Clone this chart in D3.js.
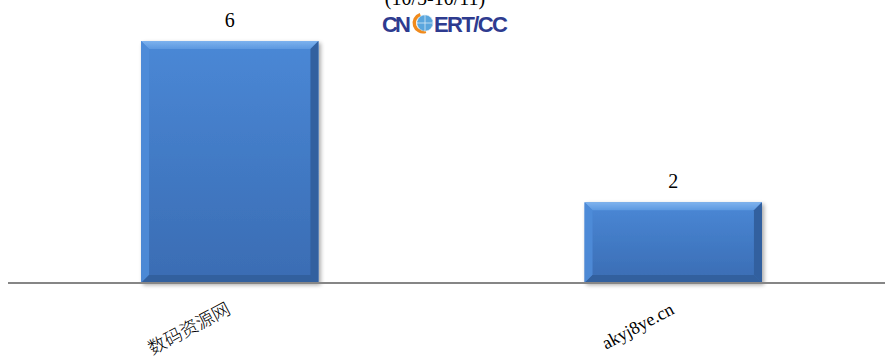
<!DOCTYPE html>
<html>
<head>
<meta charset="utf-8">
<script src="https://cdn.jsdelivr.net/npm/d3@7"></script>
<style>
  body { margin: 0; background: #fff; }
  svg { display: block; }
</style>
</head>
<body>
<div id="chart-area"></div>
<script>
// data
const sites = ["数码资源网", "akyj8ye.cn"];
const counts = [6, 2];
const titleText = "(10/5-10/11)";

const W = 885, H = 358;
const axisY = 283;
const bevel = 8;

const svg = d3.select("#chart-area")
  .append("svg")
  .attr("width", W)
  .attr("height", H);

const defs = svg.append("defs");

const face = defs.append("linearGradient")
  .attr("id", "face").attr("x1", 0).attr("y1", 0).attr("x2", 0).attr("y2", 1);
face.append("stop").attr("offset", "0%").attr("stop-color", "#4a88d6");
face.append("stop").attr("offset", "100%").attr("stop-color", "#3a6cb3");

const topG = defs.append("linearGradient")
  .attr("id", "topBevel").attr("x1", 0).attr("y1", 0).attr("x2", 0).attr("y2", 1);
topG.append("stop").attr("offset", "0%").attr("stop-color", "#7db2ee");
topG.append("stop").attr("offset", "100%").attr("stop-color", "#5c98e0");

const shadow = defs.append("filter").attr("id", "shadow")
  .attr("x", "-10%").attr("y", "-10%").attr("width", "125%").attr("height", "125%");
shadow.append("feGaussianBlur").attr("in", "SourceAlpha").attr("stdDeviation", 2);
shadow.append("feOffset").attr("dx", 2).attr("dy", 2).attr("result", "b");
shadow.append("feComponentTransfer").append("feFuncA").attr("type", "linear").attr("slope", 0.35);
const merge = shadow.append("feMerge");
merge.append("feMergeNode");
merge.append("feMergeNode").attr("in", "SourceGraphic");

// scales
const x = d3.scaleBand()
  .domain(sites)
  .range([8, 895])
  .paddingInner(0.6)
  .paddingOuter(0.3);

const y = d3.scaleLinear()
  .domain([0, 6])
  .range([axisY, 41]);

const data = sites.map((s, i) => ({site: s, count: counts[i]}));

// bars
const bars = svg.selectAll("g.bar").data(data).enter().append("g")
  .attr("class", "bar")
  .attr("filter", "url(#shadow)");

bars.append("rect")
  .attr("x", d => x(d.site))
  .attr("y", d => y(d.count))
  .attr("width", x.bandwidth())
  .attr("height", d => axisY - y(d.count))
  .attr("fill", "url(#face)");

// bevel edges
bars.each(function(d) {
  const g = d3.select(this);
  const x0 = x(d.site), x1 = x0 + x.bandwidth();
  const y0 = y(d.count), y1 = axisY;
  const b = bevel;
  g.append("polygon")
    .attr("points", [[x0, y0], [x1, y0], [x1 - b, y0 + b], [x0 + b, y0 + b]].join(" "))
    .attr("fill", "url(#topBevel)");
  g.append("polygon")
    .attr("points", [[x0, y0], [x0 + b, y0 + b], [x0 + b, y1 - b], [x0, y1]].join(" "))
    .attr("fill", "#4f8cd8").attr("opacity", 0.9);
  g.append("polygon")
    .attr("points", [[x1, y0], [x1, y1], [x1 - b, y1 - b], [x1 - b, y0 + b]].join(" "))
    .attr("fill", "#31609f");
  g.append("polygon")
    .attr("points", [[x0, y1], [x0 + b, y1 - b], [x1 - b, y1 - b], [x1, y1]].join(" "))
    .attr("fill", "#30609e");
});

// axis line
svg.append("line")
  .attr("x1", 8).attr("x2", W)
  .attr("y1", axisY).attr("y2", axisY)
  .attr("stroke", "#868686")
  .attr("stroke-width", 2);

// value labels
svg.selectAll("text.value").data(data).enter().append("text")
  .attr("class", "value")
  .attr("x", d => x(d.site) + x.bandwidth() / 2)
  .attr("y", d => y(d.count) - 14)
  .attr("text-anchor", "middle")
  .attr("font-family", "'Liberation Serif', 'Times New Roman', serif")
  .attr("font-size", "20px")
  .attr("fill", "#000")
  .text(d => d.count);

// category labels
svg.selectAll("text.cat").data(data).enter().append("text")
  .attr("class", "cat")
  .attr("transform", d => `translate(${x(d.site) + x.bandwidth() / 2 + 2}, ${axisY + 30}) rotate(-28)`)
  .attr("text-anchor", "end")
  .attr("font-family", "'Liberation Serif', 'Noto Sans CJK SC', serif")
  .attr("font-weight", 300)
  .attr("font-size", "18px")
  .attr("fill", "#000")
  .text(d => d.site);

// title (cut off by the top edge, as in the source)
svg.append("text")
  .attr("x", 435)
  .attr("y", 5)
  .attr("text-anchor", "middle")
  .attr("font-family", "'Liberation Serif', serif")
  .attr("font-size", "20px")
  .text(titleText);

// CNCERT/CC logo
const logo = svg.append("g").attr("transform", "translate(382, 32)");
logo.append("text")
  .attr("x", 0).attr("y", 0)
  .attr("font-family", "'Liberation Sans', Arial, sans-serif")
  .attr("font-weight", "bold")
  .attr("font-size", "22px")
  .attr("fill", "#2e3b8f")
  .attr("textLength", 29)
  .text("CN");
logo.append("path")
  .attr("d", d3.arc()({innerRadius: 7, outerRadius: 10.5, startAngle: Math.PI * 0.9, endAngle: Math.PI * 1.9}))
  .attr("transform", "translate(41,-9)")
  .attr("fill", "#f08a1c");
logo.append("circle")
  .attr("cx", 43).attr("cy", -9).attr("r", 8)
  .attr("fill", "#5aa6dd");
logo.append("circle")
  .attr("cx", 43).attr("cy", -9).attr("r", 8)
  .attr("fill", "none").attr("stroke", "#d4eaf8").attr("stroke-width", 0.8)
  .attr("stroke-dasharray", "2,1");
logo.append("line")
  .attr("x1", 35).attr("x2", 51).attr("y1", -9).attr("y2", -9)
  .attr("stroke", "#d4eaf8").attr("stroke-width", 0.8);
logo.append("line")
  .attr("x1", 43).attr("x2", 43).attr("y1", -17).attr("y2", -1)
  .attr("stroke", "#d4eaf8").attr("stroke-width", 0.8);
logo.append("text")
  .attr("x", 52).attr("y", 0)
  .attr("font-family", "'Liberation Sans', Arial, sans-serif")
  .attr("font-weight", "bold")
  .attr("font-size", "22px")
  .attr("fill", "#2e3b8f")
  .attr("textLength", 74)
  .text("ERT/CC");
</script>
</body>
</html>
